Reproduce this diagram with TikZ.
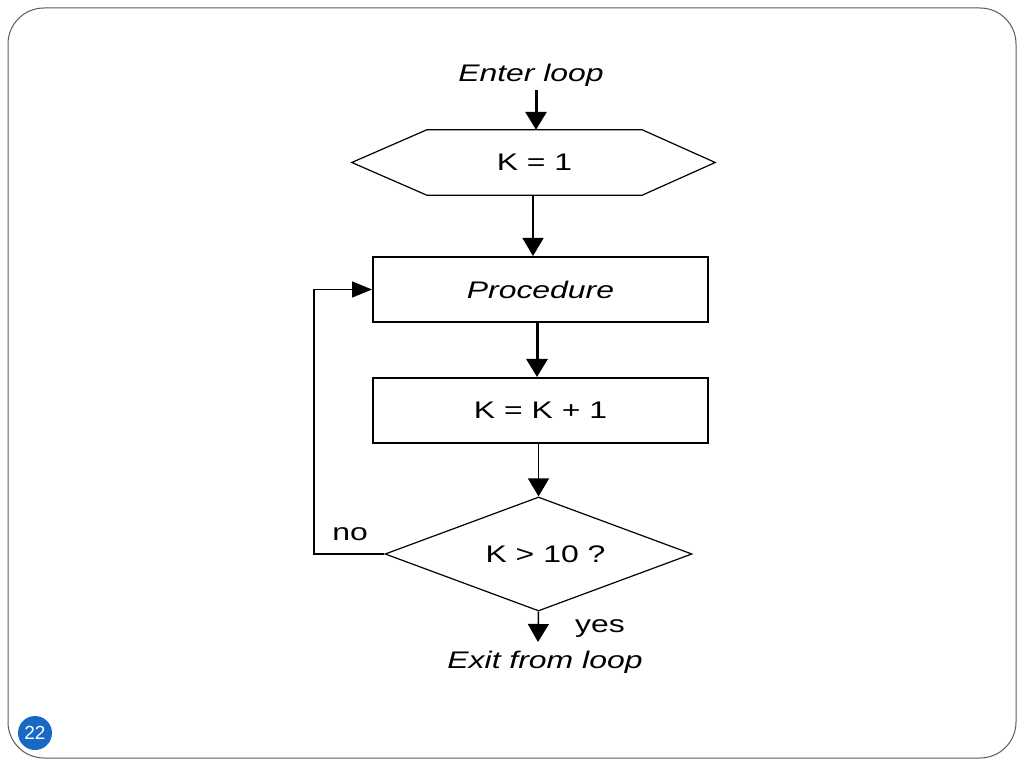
\documentclass[tikz,border=0pt]{standalone}
\usepackage{fontspec}
\setmainfont[FakeStretch=1.33]{Liberation Sans}
\newfontfamily\numfont{Liberation Sans}
\usetikzlibrary{arrows.meta,shapes.geometric}
\definecolor{slideblue}{RGB}{24,104,196}
\definecolor{framegray}{RGB}{90,90,90}
\begin{document}
\begin{tikzpicture}[x=1pt,y=1pt,
    font=\fontsize{24}{28}\selectfont,
    arr/.style={line width=1.5pt,-{Triangle[length=18pt,width=21pt]}},
    thickarr/.style={arr,line width=3pt},
    thinline/.style={line width=1.2pt},
    box/.style={draw,line width=2pt,minimum width=335pt,minimum height=65pt,inner sep=0pt},
    test/.style={draw,diamond,line width=1.2pt,minimum width=307pt,minimum height=114pt,inner sep=0pt,aspect=2.7}]
    \path[use as bounding box] (0,0) rectangle (1024,768);
    % slide frame and page number
    \draw[framegray,line width=1pt,rounded corners=36pt] (8,10) rectangle (1016,760);
    \node[circle,fill=slideblue,minimum size=34pt,inner sep=0pt,text=white,
      font=\numfont\fontsize{19}{22}\selectfont] (pagenum) at (35,35) {22};
    % flowchart
    \node (enter) at (531,693) {\itshape Enter loop};
    \node[minimum width=215pt,minimum height=65pt,inner sep=0pt] (init) at (534.5,605.5) {K = 1};
    \draw[thinline] (init.north west) -- (init.north east) -- ([xshift=73pt]init.east)
      -- (init.south east) -- (init.south west) -- ([xshift=-75pt]init.west) -- cycle;
    \node[box] (proc) at (540.5,478.5) {\itshape Procedure};
    \node[box] (incr) at (540.5,357.5) {K = K + 1};
    \node[test] (check) at (538.5,214) {\hspace*{14pt}K > 10 ?};
    \node (exit) at (545,106) {\itshape Exit from loop};
    \coordinate (exitpt) at (538,126);
    \coordinate (loopcorner) at (314,214);
    % connectors
    \draw[thickarr] (enter.south -| 536,0) -- (init.north -| 536,0);
    \draw[arr] (init.south -| 533,0) -- (proc.north -| 533,0);
    \draw[thickarr] (proc.south -| 537,0) -- (incr.north -| 537,0);
    \draw[arr] (incr.south -| check.north) -- (check.north);
    \draw[arr] (check.south) -- (exitpt);
    \draw[line width=1.5pt,-{Triangle[length=20pt,width=16pt]}]
      (check.west) -- (loopcorner) |- (proc.west);
    \node (no) at (350,234) {no};
    \node (yes) at (600,139) {yes};
  \end{tikzpicture}
\end{document}
